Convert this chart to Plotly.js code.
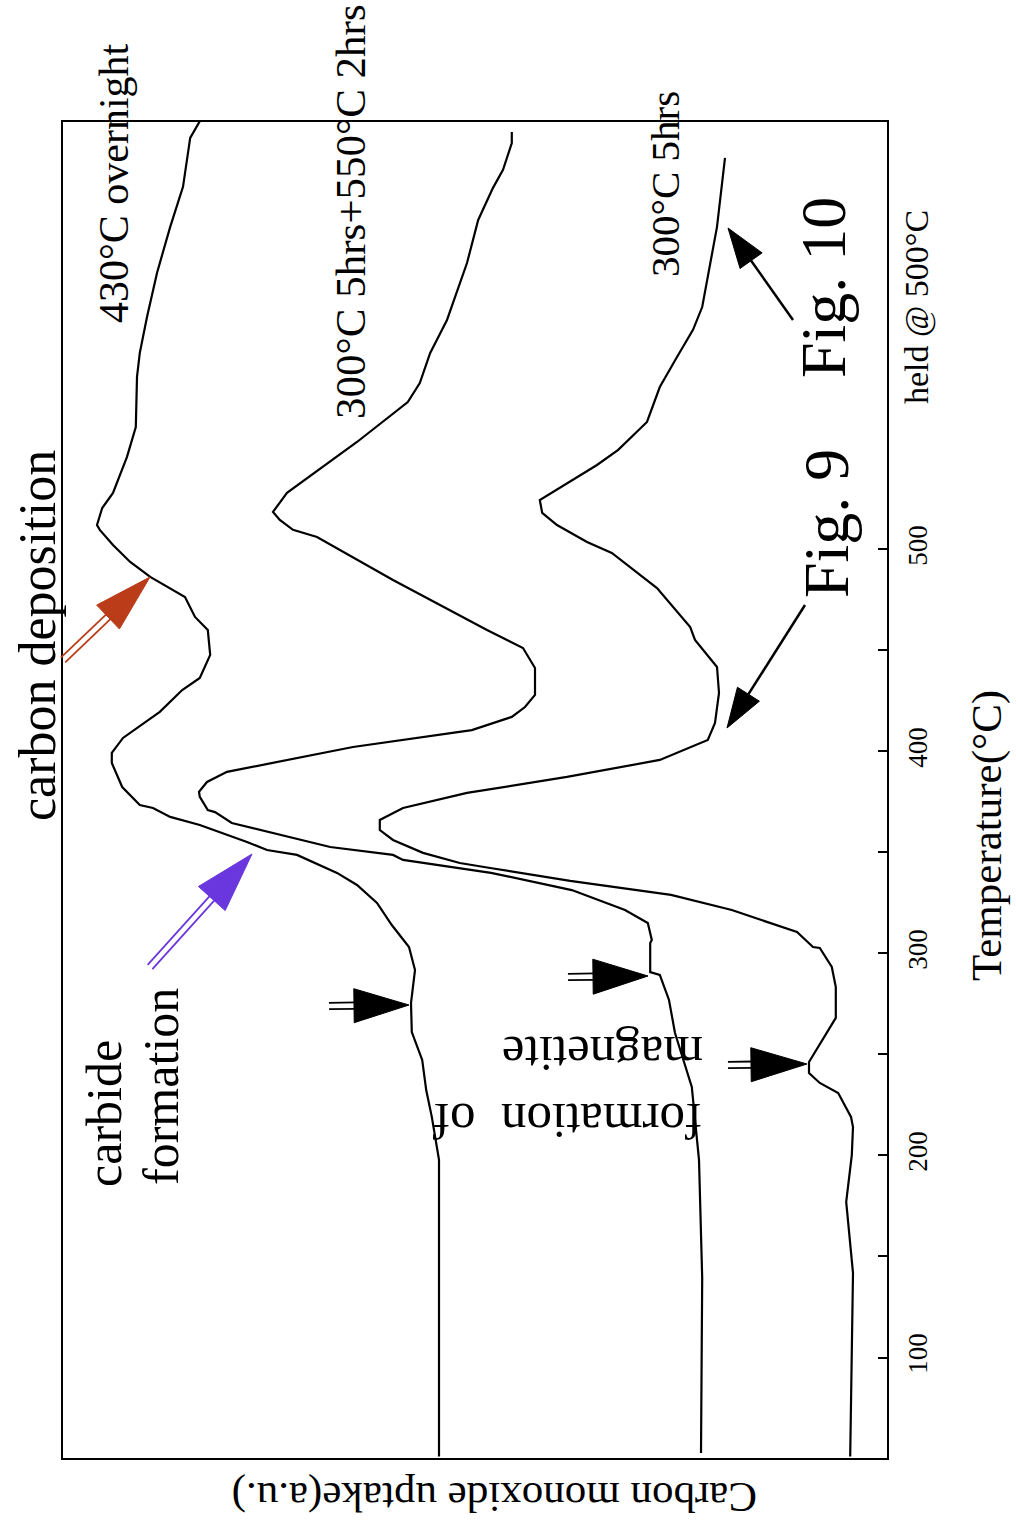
<!DOCTYPE html>
<html>
<head>
<meta charset="utf-8">
<script src="https://cdn.plot.ly/plotly-3.0.1.min.js"></script>
<style>html,body{margin:0;padding:0;background:#fff;}#chart{width:1016px;height:1526px;}</style>
</head>
<body>
<div id="chart"></div>
<script>
// ---- data (uptake in a.u., temperature in °C; above 500 = held @ 500°C) ----
const seriesNames = ["430°C overnight", "300°C 5hrs+550°C 2hrs", "300°C 5hrs"];

const temp430 = [51, 197.8, 219.1, 232.4, 247.3, 261.1, 275.5, 291.8, 303.2, 314.1, 325.0, 333.9, 339.9, 348.8, 351.2, 355.2, 363.6, 367.6, 372.0, 373.5, 382.4, 394.3, 399.3, 406.7, 419.6, 430.4, 436.4, 447.8, 460.1, 466.6, 476.5, 486.4, 493.8, 502.2, 509.7, 512.1, 520.5, 528.0, 545.8, 560.6, 585.4, 597.3, 615.1, 636.9, 659.7, 679.5, 703.7, 706.2, 712];
const uptake430 = [56.0, 56.0, 56.9, 57.6, 58.1, 59.4, 59.5, 59.0, 59.75, 61.9, 63.75, 66.25, 68.75, 73.75, 77.5, 80.0, 85.9, 89.6, 91.75, 93.4, 95.6, 96.9, 96.9, 95.5, 90.9, 88.1, 85.9, 84.6, 84.9, 86.5, 87.75, 92.1, 94.6, 96.75, 98.4, 98.75, 98.1, 96.75, 95.0, 93.9, 93.75, 93.4, 92.5, 91.25, 89.6, 88.0, 87.1, 86.75, 85.9];

const temp300550 = [52.7, 139.4, 197.8, 214.1, 233.9, 260.6, 277.0, 289.4, 290.8, 305.2, 306.7, 315.1, 321.5, 331.4, 339.9, 346.3, 348.8, 352.7, 364.6, 370.0, 371.0, 377.5, 380.0, 384.9, 389.9, 402.2, 410.6, 417.1, 422.0, 428.0, 441.3, 451.2, 460.1, 484.9, 499.8, 506.2, 509.7, 514.6, 518.6, 528.0, 553.2, 573.0, 582.4, 597.3, 613.6, 641.8, 663.1, 679.0, 687.9, 701.2, 706.7];
const uptake300550 = [23.25, 23.1, 23.5, 23.9, 24.4, 26.5, 27.25, 28.4, 29.6, 29.6, 29.4, 29.9, 32.75, 39.4, 49.5, 60.5, 61.75, 69.6, 81.9, 84.0, 84.9, 85.9, 86.0, 85.0, 82.5, 66.75, 51.9, 46.9, 45.25, 44.0, 44.0, 45.5, 50.0, 61.75, 68.4, 71.25, 74.25, 75.9, 76.75, 75.0, 66.25, 59.9, 58.4, 57.1, 55.0, 52.5, 51.1, 49.25, 48.0, 46.9, 46.9];

const temp300 = [51, 141.8, 177.0, 200.2, 214.1, 219.1, 226.5, 230.9, 235.9, 240.8, 246.3, 268.1, 283.4, 293.3, 302.7, 303.2, 310.6, 321.5, 329.0, 335.9, 342.3, 344.8, 349.8, 356.2, 361.1, 366.1, 372.0, 379.5, 387.4, 395.8, 405.7, 414.1, 429.0, 441.8, 455.2, 461.6, 480.9, 498.3, 503.7, 509.2, 512.1, 518.1, 524.5, 541.8, 549.3, 563.1, 580.4, 595.3, 608.7, 620.0, 646.8, 659.7, 693.8];
const uptake300 = [4.6, 4.25, 5.1, 4.4, 4.25, 4.5, 5.5, 6.1, 8.4, 9.75, 9.75, 6.4, 6.4, 6.9, 8.4, 9.25, 11.25, 19.4, 27.0, 39.6, 49.6, 53.4, 58.0, 61.75, 63.4, 63.4, 60.5, 52.5, 40.0, 28.4, 22.4, 21.5, 21.0, 21.25, 24.0, 24.6, 28.75, 34.4, 37.5, 40.0, 41.25, 43.1, 43.4, 36.25, 33.6, 30.0, 28.4, 26.25, 24.25, 23.1, 21.9, 21.25, 20.25];

const tempTicks = [100, 200, 300, 400, 500];
const tempMinorTicks = [150, 250, 350, 450];
const tempTickText = ["100", "200", "300", "400", "500"];

// ---- rendering ----
const FONT = "Liberation Serif, Times New Roman, serif";
const W = 1016, H = 1526;
const M = {l: 63, r: 129, t: 122, b: 68};
const PW = W - M.l - M.r, PH = H - M.t - M.b;
function P(x, y) { return [(x - M.l) / PW, (H - M.b - y) / PH]; }

const traces = [
  {x: uptake430, y: temp430, name: seriesNames[0]},
  {x: uptake300550, y: temp300550, name: seriesNames[1]},
  {x: uptake300, y: temp300, name: seriesNames[2]}
].map(t => Object.assign(t, {type: 'scatter', mode: 'lines', line: {color: '#000', width: 2.2}, hoverinfo: 'skip'}));

function label(text, x, y, size, angle) {
  const p = P(x, y);
  return {text: text, x: p[0], y: p[1], xref: 'paper', yref: 'paper', showarrow: false,
    xanchor: 'center', yanchor: 'middle', textangle: angle, font: {family: FONT, size: size, color: '#000'}};
}
const annotations = [
  label(seriesNames[0], 114, 183, 42, -90),
  label(seriesNames[1], 351, 212, 43, -90),
  label(seriesNames[2], 665, 184, 41, -90),
  label("carbon deposition", 37, 636, 52, -90),
  label("carbide", 104, 1114, 50, -90),
  label("formation", 161, 1087, 50, -90),
  label("formation\u00a0\u00a0of", 568, 1121, 51, 180),
  label("magnetite", 603, 1054, 51, 180),
  label("Fig. 9", 826, 524, 64, -90),
  label("Fig. 10", 823, 288, 64, -90),
  label("held @ 500°C", 917, 307, 34, -90),
  label("Temperature(°C)", 987, 836, 43, -90),
  label("Carbon monoxide uptake(a.u.)", 495, 1497, 43, 180)
];

const shapes = [];
function arrow(tail, tip, headLen, halfW, color, dbl) {
  const dx = tip[0] - tail[0], dy = tip[1] - tail[1];
  const L = Math.hypot(dx, dy), ux = dx / L, uy = dy / L, nx = -uy, ny = ux;
  const base = [tip[0] - ux * headLen, tip[1] - uy * headLen];
  const c1 = P(base[0] + nx * halfW, base[1] + ny * halfW);
  const c2 = P(base[0] - nx * halfW, base[1] - ny * halfW);
  const t = P(tip[0], tip[1]);
  shapes.push({type: 'path', xref: 'paper', yref: 'paper', layer: 'above',
    path: `M${t[0]},${t[1]} L${c1[0]},${c1[1]} L${c2[0]},${c2[1]} Z`,
    fillcolor: color, line: {color: color, width: 1}});
  const end = [base[0] + ux * 2, base[1] + uy * 2];
  const offs = dbl ? [-3.2, 3.2] : [0];
  offs.forEach(o => {
    const a = P(tail[0] + nx * o, tail[1] + ny * o), b = P(end[0] + nx * o, end[1] + ny * o);
    shapes.push({type: 'line', xref: 'paper', yref: 'paper', layer: 'above',
      x0: a[0], y0: a[1], x1: b[0], y1: b[1], line: {color: color, width: dbl ? 1.8 : 2.5}});
  });
}
arrow([63, 660], [150, 577], 58, 16.5, '#BA3C18', true);
arrow([150, 967], [252, 854], 60, 18, '#6A36DE', true);
arrow([329, 1006], [409, 1005], 55, 17, '#000', true);
arrow([568, 977], [648, 976], 55, 17.5, '#000', true);
arrow([728, 1065], [807, 1064], 56, 17, '#000', true);
arrow([805, 605], [727, 728], 40, 13, '#000', false);
arrow([793, 320], [728, 228], 40, 13.5, '#000', false);

const layout = {
  width: W, height: H, autosize: false,
  margin: M,
  paper_bgcolor: '#fff', plot_bgcolor: '#fff',
  showlegend: false,
  font: {family: FONT, color: '#000'},
  xaxis: {
    range: [103, 0], showgrid: false, zeroline: false, showticklabels: false, ticks: '',
    showline: true, mirror: true, linecolor: '#000', linewidth: 2
  },
  yaxis: {
    range: [50.25, 711.6], side: 'right', showgrid: false, zeroline: false,
    tickmode: 'array', tickvals: tempTicks, ticktext: tempTickText,
    ticks: 'inside', ticklen: 9, tickwidth: 2, tickcolor: '#000',
    minor: {tickmode: 'array', tickvals: tempMinorTicks, ticks: 'inside', ticklen: 9, tickwidth: 2, tickcolor: '#000', showgrid: false},
    tickangle: -90, tickfont: {family: FONT, size: 27, color: '#000'},
    ticklabelstandoff: 6,
    showline: true, mirror: true, linecolor: '#000', linewidth: 2
  },
  annotations: annotations,
  shapes: shapes
};

Plotly.newPlot('chart', traces, layout, {displayModeBar: false, staticPlot: true});
</script>
</body>
</html>
